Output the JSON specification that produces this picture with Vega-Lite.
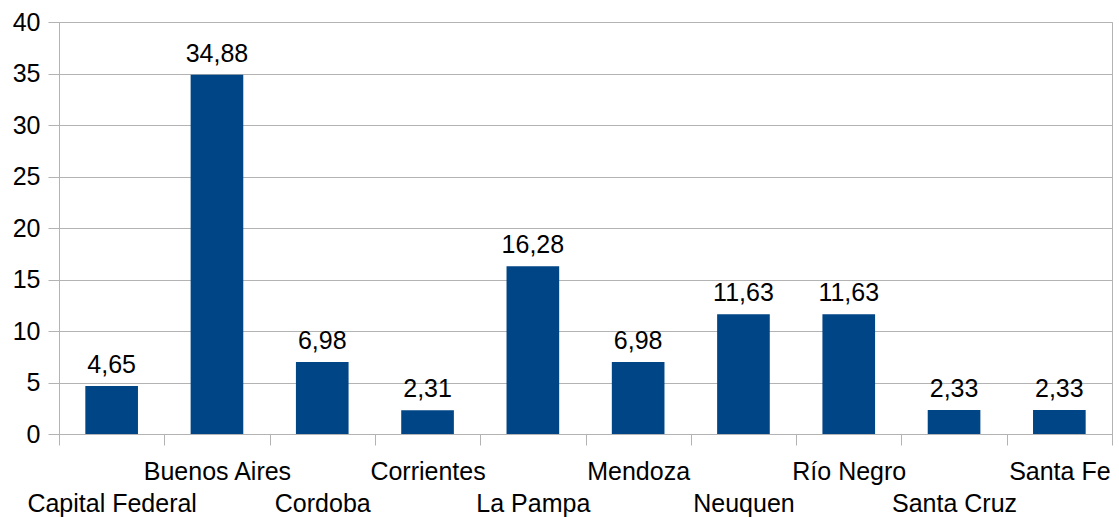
{
  "$schema": "https://vega.github.io/schema/vega-lite/v6.json",
  "width": 1053,
  "height": 412,
  "autosize": {"type": "none"},
  "padding": {"left": 59, "top": 22, "right": 7, "bottom": 83},
  "background": "white",
  "data": {
    "values": [
      {"provincia": "Capital Federal", "valor": 4.65},
      {"provincia": "Buenos Aires", "valor": 34.88},
      {"provincia": "Cordoba", "valor": 6.98},
      {"provincia": "Corrientes", "valor": 2.31},
      {"provincia": "La Pampa", "valor": 16.28},
      {"provincia": "Mendoza", "valor": 6.98},
      {"provincia": "Neuquen", "valor": 11.63},
      {"provincia": "Río Negro", "valor": 11.63},
      {"provincia": "Santa Cruz", "valor": 2.33},
      {"provincia": "Santa Fe", "valor": 2.33}
    ]
  },
  "encoding": {
    "x": {
      "field": "provincia",
      "type": "nominal",
      "sort": null,
      "scale": {"paddingInner": 0, "paddingOuter": 0},
      "axis": {
        "title": null,
        "labelAngle": 0,
        "labelFontSize": 25,
        "labelColor": "black",
        "labelFont": "Liberation Sans",
        "labelPadding": 14,
        "labelLineHeight": 32,
        "labelBaseline": "top",
        "tickBand": "extent",
        "tickSize": 11,
        "tickColor": "#b3b3b3",
        "domainColor": "#b3b3b3",
        "labelExpr": "round(datum.index * 9) % 2 == 0 ? ['', datum.value] : datum.value"
      }
    },
    "y": {
      "field": "valor",
      "type": "quantitative",
      "scale": {"domain": [0, 40]},
      "axis": {
        "title": null,
        "values": [0, 5, 10, 15, 20, 25, 30, 35, 40],
        "labelFontSize": 25,
        "labelColor": "black",
        "labelFont": "Liberation Sans",
        "labelPadding": 8,
        "tickSize": 11,
        "tickColor": "#b3b3b3",
        "domainColor": "#b3b3b3",
        "gridColor": "#b3b3b3",
        "grid": true
      }
    }
  },
  "layer": [
    {"mark": {"type": "bar", "color": "#004586", "width": {"band": 0.5}}},
    {
      "mark": {"type": "text", "baseline": "alphabetic", "dy": -13, "fontSize": 25, "font": "Liberation Sans", "color": "black"},
      "encoding": {"text": {"field": "valor", "type": "quantitative", "format": ".2f"}}
    }
  ],
  "config": {
    "view": {"stroke": "#b3b3b3"},
    "locale": {"number": {"decimal": ",", "thousands": ".", "grouping": [3], "currency": ["", " €"]}}
  }
}
